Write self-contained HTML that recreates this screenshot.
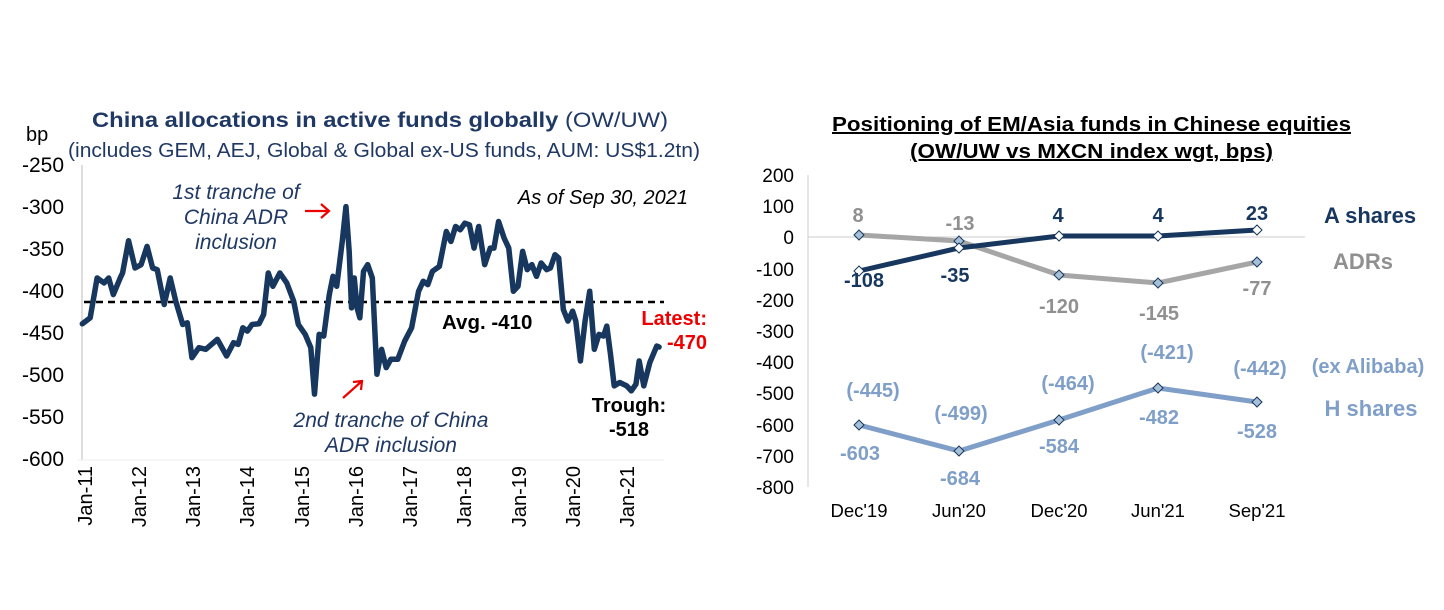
<!DOCTYPE html>
<html><head><meta charset="utf-8"><style>
body{margin:0;background:#fff}
svg{display:block;font-family:"Liberation Sans",Arial,sans-serif}
</style></head><body>
<svg width="1444" height="610" viewBox="0 0 1444 610">
<!-- LEFT CHART -->
<g font-size="20" fill="#000">
<text x="92" y="127" font-size="21" fill="#1f3864" textLength="576" lengthAdjust="spacingAndGlyphs"><tspan font-weight="bold">China allocations in active funds globally</tspan> (OW/UW)</text>
<text x="68" y="157" fill="#1f3864" font-size="20" textLength="632" lengthAdjust="spacingAndGlyphs">(includes GEM, AEJ, Global &amp; Global ex-US funds, AUM: US$1.2tn)</text>
<text x="26" y="141" font-size="20">bp</text>
<g text-anchor="end" font-size="21">
<text x="64" y="172">-250</text><text x="64" y="214">-300</text><text x="64" y="256">-350</text>
<text x="64" y="298">-400</text><text x="64" y="340">-450</text><text x="64" y="382">-500</text>
<text x="64" y="424">-550</text><text x="64" y="466">-600</text>
</g>
<line x1="82" y1="165" x2="82" y2="460" stroke="#bbb"/>
<line x1="78" y1="460" x2="664" y2="460" stroke="#eee"/>
<g font-size="20" text-anchor="end">
<text transform="translate(92,466) rotate(-90)">Jan-11</text>
<text transform="translate(146,466) rotate(-90)">Jan-12</text>
<text transform="translate(200,466) rotate(-90)">Jan-13</text>
<text transform="translate(254,466) rotate(-90)">Jan-14</text>
<text transform="translate(309,466) rotate(-90)">Jan-15</text>
<text transform="translate(363,466) rotate(-90)">Jan-16</text>
<text transform="translate(417,466) rotate(-90)">Jan-17</text>
<text transform="translate(471,466) rotate(-90)">Jan-18</text>
<text transform="translate(526,466) rotate(-90)">Jan-19</text>
<text transform="translate(580,466) rotate(-90)">Jan-20</text>
<text transform="translate(634,466) rotate(-90)">Jan-21</text>
</g>
<line x1="84" y1="302" x2="664" y2="302" stroke="#000" stroke-width="2.5" stroke-dasharray="7,5"/>
<g transform="matrix(0.4625 0 0 0.332 0 102)">
<polyline vector-effect="non-scaling-stroke" fill="none" stroke="#17375e" stroke-width="5.5" stroke-linejoin="round" stroke-linecap="round" points="178,668 195,650 210,530 225,545 235,530 245,580 260,530 265,515 278,418 292,500 305,490 318,435 330,500 340,505 355,610 368,530 380,600 395,670 405,665 415,770 430,740 445,745 470,715 490,765 505,725 515,730 525,680 535,690 545,670 560,668 570,640 580,515 590,555 605,515 620,545 635,600 645,670 660,700 672,740 680,880 690,700 700,705 712,580 720,525 728,555 740,420 748,315 755,450 760,620 766,530 772,620 778,650 786,510 795,490 805,530 815,820 825,745 835,800 845,775 860,775 875,720 890,680 905,570 915,540 925,550 935,510 950,495 965,390 975,420 985,375 995,385 1005,365 1015,370 1025,440 1035,375 1048,490 1060,440 1068,440 1078,360 1090,410 1100,440 1110,570 1120,555 1130,450 1140,505 1150,490 1160,525 1170,485 1182,505 1190,500 1200,460 1208,470 1218,625 1228,660 1238,630 1245,660 1255,780 1265,660 1275,570 1285,745 1295,700 1305,705 1312,675 1320,760 1328,855 1340,845 1355,855 1365,870 1375,850 1382,780 1392,855 1405,785 1420,735 1425,738"/>
</g>
<g font-style="italic" fill="#1f3864" text-anchor="middle" font-size="21">
<text x="236" y="199">1st tranche of</text><text x="236" y="224">China ADR</text><text x="236" y="249">inclusion</text>
<text x="391" y="427">2nd tranche of China</text><text x="391" y="452">ADR inclusion</text>
</g>
<text x="688" y="204" text-anchor="end" font-style="italic" font-size="20">As of Sep 30, 2021</text>
<text x="442" y="329" font-weight="bold" font-size="20.5">Avg. -410</text>
<text x="707" y="325" text-anchor="end" font-weight="bold" fill="#e00" font-size="20">Latest:</text>
<text x="707" y="349" text-anchor="end" font-weight="bold" fill="#e00" font-size="20">-470</text>
<text x="629" y="412" text-anchor="middle" font-weight="bold" font-size="20">Trough:</text>
<text x="629" y="436" text-anchor="middle" font-weight="bold" font-size="20">-518</text>
<g stroke="#e00" stroke-width="2.2" fill="none">
<path d="M305,211 L329,211 M321,204 L329,211 L321,218"/>
<path d="M343,398 L362,381 M353,382 L362,381 L361,390"/>
</g>
</g>

<!-- RIGHT CHART -->
<g font-size="19" fill="#000">
<text x="832" y="131" font-weight="bold" font-size="20" text-decoration="underline" textLength="519" lengthAdjust="spacingAndGlyphs">Positioning of EM/Asia funds in Chinese equities</text>
<text x="910" y="158" font-weight="bold" font-size="20" text-decoration="underline" textLength="363" lengthAdjust="spacingAndGlyphs">(OW/UW vs MXCN index wgt, bps)</text>
<g text-anchor="end" font-size="19">
<text x="794" y="182">200</text><text x="794" y="213">100</text><text x="794" y="244">0</text>
<text x="794" y="276">-100</text><text x="794" y="307">-200</text><text x="794" y="338">-300</text>
<text x="794" y="369">-400</text><text x="794" y="400">-500</text><text x="794" y="432">-600</text>
<text x="794" y="463">-700</text><text x="794" y="494">-800</text>
</g>
<line x1="808" y1="175" x2="808" y2="487" stroke="#ccc"/>
<line x1="808" y1="237" x2="1305" y2="237" stroke="#ccc"/>
<g font-size="18.5" text-anchor="middle">
<text x="859" y="517">Dec'19</text><text x="959" y="517">Jun'20</text><text x="1059" y="517">Dec'20</text>
<text x="1158" y="517">Jun'21</text><text x="1257" y="517">Sep'21</text>
</g>
<polyline fill="none" stroke="#a6a6a6" stroke-width="5" points="859,235 959,241 1059,275 1158,283 1257,262"/>
<polyline fill="none" stroke="#17375e" stroke-width="5" points="859,271 959,248 1059,236 1158,236 1257,230"/>
<polyline fill="none" stroke="#7f9fc8" stroke-width="5" points="859,425 959,451 1059,420 1158,388 1257,402"/>
<g stroke="#17375e" stroke-width="1">
<g fill="#a6c0d8"><path d="M859,230l5,5l-5,5l-5,-5z"/><path d="M959,236l5,5l-5,5l-5,-5z"/><path d="M1059,270l5,5l-5,5l-5,-5z"/><path d="M1158,278l5,5l-5,5l-5,-5z"/><path d="M1257,257l5,5l-5,5l-5,-5z"/></g>
<g fill="#fff"><path d="M859,266l5,5l-5,5l-5,-5z"/><path d="M959,243l5,5l-5,5l-5,-5z"/><path d="M1059,231l5,5l-5,5l-5,-5z"/><path d="M1158,231l5,5l-5,5l-5,-5z"/><path d="M1257,225l5,5l-5,5l-5,-5z"/></g>
<g fill="#a6c0d8"><path d="M859,420l5,5l-5,5l-5,-5z"/><path d="M959,446l5,5l-5,5l-5,-5z"/><path d="M1059,415l5,5l-5,5l-5,-5z"/><path d="M1158,383l5,5l-5,5l-5,-5z"/><path d="M1257,397l5,5l-5,5l-5,-5z"/></g>
</g>
<g font-weight="bold" text-anchor="middle" font-size="20">
<g fill="#909090"><text x="858" y="222">8</text><text x="960" y="230">-13</text><text x="1059" y="313">-120</text><text x="1159" y="320">-145</text><text x="1257" y="295">-77</text><text x="1363" y="269" font-size="22">ADRs</text></g>
<g fill="#17375e"><text x="1058" y="222">4</text><text x="1158" y="222">4</text><text x="1257" y="220">23</text><text x="864" y="287">-108</text><text x="955" y="282">-35</text><text x="1370" y="223" font-size="22">A shares</text></g>
<g fill="#7f9fc8"><text x="873" y="397">(-445)</text><text x="961" y="420">(-499)</text><text x="1068" y="390">(-464)</text><text x="1167" y="359">(-421)</text><text x="1260" y="375">(-442)</text>
<text x="860" y="460">-603</text><text x="960" y="485">-684</text><text x="1059" y="453">-584</text><text x="1159" y="424">-482</text><text x="1257" y="438">-528</text>
<text x="1368" y="373">(ex Alibaba)</text><text x="1371" y="416" font-size="22">H shares</text></g>
</g>
</g>
</svg>
</body></html>
